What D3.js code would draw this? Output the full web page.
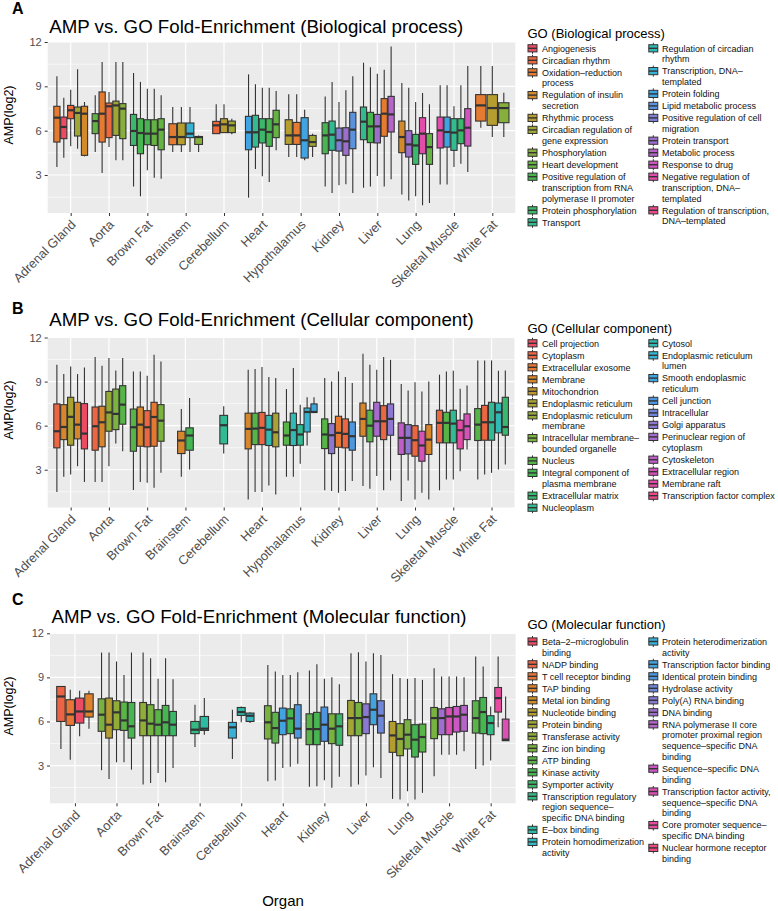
<!DOCTYPE html>
<html><head><meta charset="utf-8">
<script src="https://cdn.jsdelivr.net/npm/d3@7"></script>
<style>
body{margin:0;background:#fff}
text{font-family:"Liberation Sans",Arial,Helvetica,sans-serif}
</style>
</head><body>
<svg id="chart" width="778" height="911"></svg>
<script>
// ---------------- DATA ----------------
const organsAB = ["Adrenal Gland","Aorta","Brown Fat","Brainstem","Cerebellum","Heart","Hypothalamus","Kidney","Liver","Lung","Skeletal Muscle","White Fat"];
const organsC = ["Adrenal Gland","Aorta","Brown Fat","Brainstem","Cerebellum","Heart","Kidney","Liver","Lung","Skeletal Muscle","White Fat"];
const yTicks = [3, 6, 9, 12];

const termsA = ["Angiogenesis","Circadian rhythm","Oxidation–reduction\nprocess","Regulation of insulin\nsecretion","Rhythmic process","Circadian regulation of\ngene expression","Phosphorylation","Heart development","Positive regulation of\ntranscription from RNA\npolymerase II promoter","Protein phosphorylation","Transport","Regulation of circadian\nrhythm","Transcription, DNA–\ntemplated","Protein folding","Lipid metabolic process","Positive regulation of cell\nmigration","Protein transport","Metabolic process","Response to drug","Negative regulation of\ntranscription, DNA–\ntemplated","Regulation of transcription,\nDNA–templated"];
const termsB = ["Cell projection","Cytoplasm","Extracellular exosome","Membrane","Mitochondrion","Endoplasmic reticulum","Endoplasmic reticulum\nmembrane","Intracellular membrane–\nbounded organelle","Nucleus","Integral component of\nplasma membrane","Extracellular matrix","Nucleoplasm","Cytosol","Endoplasmic reticulum\nlumen","Smooth endoplasmic\nreticulum","Cell junction","Intracellular","Golgi apparatus","Perinuclear region of\ncytoplasm","Cytoskeleton","Extracellular region","Membrane raft","Transcription factor complex"];
const termsC = ["Beta–2–microglobulin\nbinding","NADP binding","T cell receptor binding","TAP binding","Metal ion binding","Nucleotide binding","Protein binding","Transferase activity","Zinc ion binding","ATP binding","Kinase activity","Symporter activity","Transcription regulatory\nregion sequence–\nspecific DNA binding","E–box binding","Protein homodimerization\nactivity","Protein heterodimerization\nactivity","Transcription factor binding","Identical protein binding","Hydrolase activity","Poly(A) RNA binding","DNA binding","RNA polymerase II core\npromoter proximal region\nsequence–specific DNA\nbinding","Sequence–specific DNA\nbinding","Transcription factor activity,\nsequence–specific DNA\nbinding","Core promoter sequence–\nspecific DNA binding","Nuclear hormone receptor\nbinding"];

// [organ, GO term index, lower whisker, Q1, median, Q3, upper whisker, n]
const boxesA = [
 ["Adrenal Gland",2,3.54,5.23,6.88,7.65,9.68],["Adrenal Gland",0,4.17,5.46,6.25,6.92,8.23],["Adrenal Gland",1,4.94,6.81,7.38,7.71,8.77],["Adrenal Gland",5,4.78,5.64,7.2,7.6,10.15],["Adrenal Gland",3,4.26,4.33,7.15,7.65,7.94],
 ["Aorta",7,4.56,5.8,6.65,7.15,8.39],["Aorta",2,3.13,5.23,7.15,8.62,10.65],["Aorta",1,4.9,5.53,7.65,7.87,8.62],["Aorta",5,4.0,5.68,7.71,8.0,10.65],["Aorta",6,4.0,5.46,7.49,7.83,10.65],
 ["Brown Fat",9,2.23,5.0,5.98,7.1,9.9],["Brown Fat",8,1.56,4.44,5.84,6.81,9.3],["Brown Fat",8,3.32,5.05,5.8,6.74,8.84],["Brown Fat",7,2.82,5.0,5.8,6.74,8.84],["Brown Fat",7,2.75,4.71,6.07,6.81,8.39],
 ["Brainstem",2,4.56,5.05,5.57,6.47,7.6],["Brainstem",4,4.56,5.05,5.57,6.52,7.6],["Brainstem",12,4.56,5.53,5.8,6.52,7.6],["Brainstem",6,4.56,5.07,5.57,5.6,5.68],
 ["Cerebellum",1,5.8,5.8,6.36,6.63,7.78,46],["Cerebellum",4,5.87,5.87,6.43,6.81,7.78,46],["Cerebellum",5,5.75,5.87,6.36,6.65,6.81,46],
 ["Heart",13,1.47,4.71,5.89,6.97,9.81],["Heart",10,3.4,4.89,5.89,7.04,9.14],["Heart",9,2.91,5.17,6.07,6.81,8.9],["Heart",8,2.53,4.94,5.91,6.81,8.9],["Heart",7,4.67,5.53,6.43,7.38,8.68],
 ["Hypothalamus",4,4.22,5.07,5.68,6.74,8.46,85],["Hypothalamus",2,4.22,5.07,5.68,6.56,8.46,85],["Hypothalamus",13,4.0,4.15,5.35,6.88,7.42,85],["Hypothalamus",5,4.22,4.94,5.23,5.68,5.8,85],
 ["Kidney",8,2.23,4.44,5.68,6.54,8.32],["Kidney",10,1.78,4.67,5.73,6.65,9.3],["Kidney",15,2.3,4.62,5.35,6.18,7.94],["Kidney",16,2.37,4.33,5.28,6.2,8.73],["Kidney",14,1.78,4.78,6.07,7.24,9.68],
 ["Liver",10,2.14,5.39,6.61,7.6,10.6],["Liver",8,2.23,5.19,6.29,7.24,10.3],["Liver",16,2.93,5.17,6.29,7.1,9.86],["Liver",2,2.23,5.62,7.15,8.17,10.13],["Liver",17,2.71,5.91,7.1,8.32,11.7],
 ["Lung",3,1.69,4.51,5.57,6.65,9.23],["Lung",16,1.28,4.22,5.07,6.0,8.91],["Lung",9,1.56,3.72,5.0,5.75,7.94],["Lung",19,0.95,4.44,5.8,6.88,8.55],["Lung",7,1.1,3.72,4.89,5.8,7.78],
 ["Skeletal Muscle",19,2.35,4.83,6.02,6.92,9.07],["Skeletal Muscle",13,2.35,4.89,5.91,6.92,9.07],["Skeletal Muscle",10,3.54,4.67,5.87,6.81,7.65],["Skeletal Muscle",9,3.77,5.12,6.02,6.81,9.07],["Skeletal Muscle",18,3.2,4.96,6.2,7.49,10.37],
 ["White Fat",2,6.2,6.65,7.71,8.44,10.37],["White Fat",4,5.57,6.36,7.53,8.44,10.37],["White Fat",6,5.57,6.54,7.53,7.89,8.57]
];
const boxesB = [
 ["Adrenal Gland",1,1.48,4.49,5.62,7.48,10.14],["Adrenal Gland",3,2.52,5.05,5.91,7.43,9.51],["Adrenal Gland",5,2.68,4.67,6.6,7.93,10.03],["Adrenal Gland",3,3.24,5.1,6.07,7.59,9.51],["Adrenal Gland",0,2.16,4.42,5.46,7.5,9.96],
 ["Aorta",1,2.16,4.33,5.96,7.27,10.67],["Aorta",3,2.16,4.56,6.23,7.32,10.08],["Aorta",6,3.24,5.62,6.9,8.33,10.6],["Aorta",7,4.78,5.73,6.8,8.49,9.76],["Aorta",8,4.26,6.1,7.43,8.72,10.6],
 ["Brown Fat",8,1.62,4.26,5.89,7.13,9.69],["Brown Fat",3,2.16,4.6,6.07,7.27,9.69],["Brown Fat",1,2.11,4.56,5.89,7.02,9.4],["Brown Fat",2,1.77,4.6,6.59,7.59,10.82],["Brown Fat",7,2.79,4.94,6.34,7.43,10.37],
 ["Brainstem",3,2.52,4.1,4.99,5.62,7.14,23],["Brainstem",9,3.02,4.33,5.33,5.85,7.89,23],
 ["Cerebellum",11,4.1,4.76,6.03,6.7,7.32,5],
 ["Heart",3,0.98,4.42,5.78,6.85,9.8],["Heart",8,1.48,4.71,5.8,6.85,9.85],["Heart",1,1.48,4.71,5.85,6.9,9.99],["Heart",12,1.93,4.65,5.73,6.7,9.31],["Heart",5,1.32,4.56,5.55,6.85,9.24],
 ["Hypothalamus",8,2.52,4.67,5.33,6.25,8.49],["Hypothalamus",12,2.52,4.65,5.7,6.85,9.92],["Hypothalamus",11,3.4,4.67,5.4,6.07,7.43],["Hypothalamus",13,4.65,5.57,6.93,7.2,7.93],["Hypothalamus",14,6.91,6.91,6.93,7.48,7.93],
 ["Kidney",8,1.6,4.44,5.4,6.46,9.24],["Kidney",17,1.55,4.1,5.35,6.14,9.01],["Kidney",2,1.43,4.53,5.51,6.64,9.69],["Kidney",1,1.55,4.49,5.44,6.46,9.31],["Kidney",15,2.23,4.33,5.28,6.25,8.9],
 ["Liver",3,1.89,5.28,6.46,7.54,10.89],["Liver",8,1.71,4.9,6.0,7.05,10.14],["Liver",18,2.57,5.28,6.3,7.59,9.8],["Liver",1,1.6,5.05,6.3,7.36,10.67],["Liver",17,2.27,5.35,6.46,7.48,10.48],
 ["Lung",19,0.87,4.04,5.17,6.19,8.83],["Lung",17,2.27,4.08,5.17,6.07,8.4],["Lung",1,0.98,3.92,5.01,6.0,8.95],["Lung",20,1.43,3.58,4.65,5.62,8.33],["Lung",3,0.98,4.04,5.05,6.07,9.01],
 ["Skeletal Muscle",1,1.6,4.83,6.19,7.05,9.47],["Skeletal Muscle",8,2.34,4.83,6.19,6.91,9.69],["Skeletal Muscle",11,2.34,4.83,6.14,7.05,9.74],["Skeletal Muscle",21,2.9,4.42,5.69,6.37,8.52],["Skeletal Muscle",20,4.38,5.05,5.96,6.8,8.74],
 ["White Fat",8,2.34,4.99,6.07,7.16,10.44],["White Fat",1,2.68,5.01,6.23,7.38,10.44],["White Fat",11,2.79,5.01,6.23,7.59,10.44],["White Fat",12,3.02,5.51,6.91,7.54,9.74],["White Fat",10,3.36,5.35,5.91,7.93,9.76]
];
const boxesC = [
 ["Adrenal Gland",1,4.13,6.0,7.7,8.38,8.38],["Adrenal Gland",2,3.4,5.73,6.48,7.48,8.15],["Adrenal Gland",0,4.99,5.89,6.68,7.59,8.09],["Adrenal Gland",3,5.51,6.3,6.68,7.88,8.09],
 ["Aorta",8,2.68,5.33,6.46,7.54,10.69],["Aorta",5,2.09,4.87,5.78,7.59,10.69],["Aorta",7,3.22,5.44,6.62,7.41,10.08],["Aorta",9,3.22,5.39,6.07,7.32,9.17],["Aorta",10,2.72,4.87,5.67,7.29,10.69],
 ["Brown Fat",7,1.71,5.03,6.07,7.29,10.69],["Brown Fat",8,1.82,5.03,5.85,7.14,10.31],["Brown Fat",9,2.5,5.03,5.78,6.8,8.9],["Brown Fat",10,1.86,5.03,5.94,7.09,10.31],["Brown Fat",11,2.84,5.03,5.78,6.68,8.88],
 ["Brainstem",12,4.26,5.17,5.44,6.0,7.14,25],["Brainstem",13,5.1,5.39,5.51,6.34,7.59,25],
 ["Cerebellum",15,3.45,4.87,5.6,5.94,6.8,50],["Cerebellum",13,5.94,6.41,6.64,6.95,7.02,50],["Cerebellum",14,5.89,6.0,6.39,6.57,6.62,50],
 ["Heart",8,1.93,4.81,5.94,7.07,9.85],["Heart",9,1.98,4.53,5.55,6.62,9.4],["Heart",16,2.84,5.1,6.05,6.91,9.17],["Heart",10,2.91,5.17,6.21,6.86,9.17],["Heart",17,3.13,4.87,5.51,7.14,9.35],
 ["Kidney",9,1.55,4.42,5.48,6.52,9.47],["Kidney",10,1.59,4.42,5.48,6.62,9.9],["Kidney",17,2.0,4.65,5.78,6.98,8.9],["Kidney",8,1.48,4.49,5.51,6.52,9.01],["Kidney",11,2.23,4.38,5.67,6.52,8.54],
 ["Liver",6,1.55,5.03,6.23,7.43,10.64],["Liver",8,1.71,5.03,6.23,7.29,10.71],["Liver",19,2.32,5.17,6.3,7.2,10.08],["Liver",16,2.88,5.78,6.8,7.88,10.64],["Liver",18,2.16,5.21,6.39,7.41,10.53],
 ["Lung",5,0.73,3.9,5.05,6.0,9.22],["Lung",7,0.69,3.67,4.81,5.85,8.95],["Lung",8,1.25,4.13,5.1,6.12,8.9],["Lung",10,0.69,3.58,4.76,5.78,8.95],["Lung",9,1.14,3.92,4.94,5.82,8.83],
 ["Skeletal Muscle",8,2.27,4.83,6.23,6.95,9.62],["Skeletal Muscle",20,3.74,5.1,6.23,6.86,9.06],["Skeletal Muscle",23,3.74,5.1,6.34,6.95,9.06],["Skeletal Muscle",22,3.74,5.28,6.34,7.02,9.06],["Skeletal Muscle",21,3.97,5.33,6.46,7.09,9.01],
 ["White Fat",9,2.77,5.21,6.23,7.41,10.42],["White Fat",10,3.0,5.17,6.64,7.63,9.74],["White Fat",12,3.34,5.1,5.89,6.39,7.02],["White Fat",24,5.6,6.64,7.59,8.31,10.42],["White Fat",23,4.69,4.69,4.76,6.16,7.7]
];

// ---------------- STYLE / LAYOUT ----------------
const hueAnchors = ["#EC4B64","#EC6A3C","#E47D2E","#D08C2A","#AFA030","#9AA935","#7DB33D","#55B548","#3EB654","#34BA7C","#2DBBA4","#33B8C8","#3BAAE2","#4A98E0","#7484D8","#9572CF","#B066CC","#CC55C2","#E04DAE","#EA4B8E","#EC4B64"];
const hue = d3.piecewise(d3.interpolateLab, hueAnchors);
const FONT = '"Liberation Sans",Arial,Helvetica,sans-serif';

const panels = [
 {label:"A", title:"AMP vs. GO Fold-Enrichment (Biological process)", legendTitle:"GO (Biological process)",
  organs:organsAB, terms:termsA, boxes:boxesA, split:11,
  left:47.7, right:515.3, top:42, bottom:213, labelY:14, titleY:33, legTitleY:37.5, legRowY:48.3, yTitleY:115},
 {label:"B", title:"AMP vs. GO Fold-Enrichment (Cellular component)", legendTitle:"GO (Cellular component)",
  organs:organsAB, terms:termsB, boxes:boxesB, split:12,
  left:47.7, right:514.5, top:337.5, bottom:507.5, labelY:314, titleY:326, legTitleY:333, legRowY:343.3, yTitleY:410},
 {label:"C", title:"AMP vs. GO Fold-Enrichment (Molecular function)", legendTitle:"GO (Molecular function)",
  organs:organsC, terms:termsC, boxes:boxesC, split:15,
  left:50, right:515.6, top:633.3, bottom:803.3, labelY:605, titleY:623, legTitleY:629, legRowY:641.5, yTitleY:706}
];

const svg = d3.select("#chart");

panels.forEach(p => {
  const g = svg.append("g");
  const nTerms = p.terms.length;
  const col = i => hue(i / nTerms);
  const x = d3.scalePoint().domain(p.organs).range([p.left, p.right]).padding(0.6);
  const y = d3.scaleLinear().domain([0.43, 12]).range([p.bottom, p.top]);
  const step = x.step();

  g.append("rect").attr("x", p.left).attr("y", p.top).attr("width", p.right - p.left).attr("height", p.bottom - p.top).attr("fill", "#EBEBEB");
  [1.5, 4.5, 7.5, 10.5].forEach(v => g.append("line").attr("x1", p.left).attr("x2", p.right).attr("y1", y(v)).attr("y2", y(v)).attr("stroke", "#fff").attr("stroke-width", 0.6));
  yTicks.forEach(v => g.append("line").attr("x1", p.left).attr("x2", p.right).attr("y1", y(v)).attr("y2", y(v)).attr("stroke", "#fff").attr("stroke-width", 1.2));
  p.organs.forEach(o => g.append("line").attr("x1", x(o)).attr("x2", x(o)).attr("y1", p.top).attr("y2", p.bottom).attr("stroke", "#fff").attr("stroke-width", 1.2));

  const ya = d3.axisLeft(y).tickValues(yTicks).tickSize(3).tickPadding(3);
  const yg = g.append("g").attr("transform", `translate(${p.left},0)`).call(ya);
  yg.select(".domain").remove();
  yg.selectAll(".tick line").attr("stroke", "#333");
  yg.selectAll(".tick text").attr("fill", "#4D4D4D").style("font-size", "11px").style("font-family", FONT);

  const xa = d3.axisBottom(x).tickSize(3).tickFormat("");
  const xg = g.append("g").attr("transform", `translate(0,${p.bottom})`).call(xa);
  xg.select(".domain").remove();
  xg.selectAll(".tick line").attr("stroke", "#333");
  p.organs.forEach(o => {
    g.append("text").attr("transform", `translate(${x(o) + 5.8},${p.bottom + 12.5}) rotate(-45)`)
      .attr("text-anchor", "end").attr("fill", "#4D4D4D").style("font-size", "12.8px").text(o);
  });

  const byOrgan = d3.group(p.boxes, d => d[0]);
  byOrgan.forEach((list, organ) => {
    const k = list.length;
    const slots = list.map(d => 0.9 * step / k * Math.sqrt((d[7] || 100) / 100));
    const total = d3.sum(slots);
    let cur = x(organ) - total / 2;
    list.forEach((d, i) => {
      const sw = slots[i];
      const bw = k > 1 ? sw * 0.9 : sw;
      const cx = cur + sw / 2;
      cur += sw;
      const [, term, lo, q1, med, q3, hi] = d;
      const bg = g.append("g");
      bg.append("line").attr("x1", cx).attr("x2", cx).attr("y1", y(hi)).attr("y2", y(q3)).attr("stroke", "#333").attr("stroke-width", 1.1);
      bg.append("line").attr("x1", cx).attr("x2", cx).attr("y1", y(q1)).attr("y2", y(lo)).attr("stroke", "#333").attr("stroke-width", 1.1);
      bg.append("rect").attr("x", cx - bw / 2).attr("y", y(q3)).attr("width", bw).attr("height", Math.max(0.5, y(q1) - y(q3)))
        .attr("fill", col(term)).attr("stroke", "#333").attr("stroke-width", 1.1);
      bg.append("line").attr("x1", cx - bw / 2).attr("x2", cx + bw / 2).attr("y1", y(med)).attr("y2", y(med)).attr("stroke", "#333").attr("stroke-width", 2.2);
    });
  });

  svg.append("text").attr("x", 12).attr("y", p.labelY).style("font-size", "16px").style("font-weight", "bold").text(p.label);
  svg.append("text").attr("x", p.left + 1.5).attr("y", p.titleY).style("font-size", "18.7px").text(p.title);
  svg.append("text").attr("transform", `translate(12.5,${p.yTitleY}) rotate(-90)`).attr("text-anchor", "middle").style("font-size", "12.5px").text("AMP(log2)");

  svg.append("text").attr("x", 527.5).attr("y", p.legTitleY).style("font-size", "13px").text(p.legendTitle);
  const cols = [{items: p.terms.slice(0, p.split), start: 0, kx: 532.5, tx: 542},
                {items: p.terms.slice(p.split), start: p.split, kx: 653.3, tx: 662}];
  cols.forEach(c => {
    let yy = p.legRowY;
    c.items.forEach((lab, j) => {
      const idx = c.start + j;
      const kg = svg.append("g");
      kg.append("line").attr("x1", c.kx).attr("x2", c.kx).attr("y1", yy - 5.5).attr("y2", yy + 5.5).attr("stroke", "#333").attr("stroke-width", 1);
      kg.append("rect").attr("x", c.kx - 4.5).attr("y", yy - 3.6).attr("width", 9).attr("height", 7.2).attr("fill", col(idx)).attr("stroke", "#333").attr("stroke-width", 1);
      kg.append("line").attr("x1", c.kx - 4.5).attr("x2", c.kx + 4.5).attr("y1", yy).attr("y2", yy).attr("stroke", "#333").attr("stroke-width", 1.4);
      const lines = lab.split("\n");
      const t = svg.append("text").style("font-size", "9px").attr("fill", "#111");
      lines.forEach((ln, li) => t.append("tspan").attr("x", c.tx).attr("y", yy + 3.2 + li * 10.8).text(ln));
      yy += 10.8 * lines.length + 1.2;
    });
  });
});

svg.append("text").attr("x", 283).attr("y", 906).attr("text-anchor", "middle").style("font-size", "15px").text("Organ");
</script>
</body></html>
